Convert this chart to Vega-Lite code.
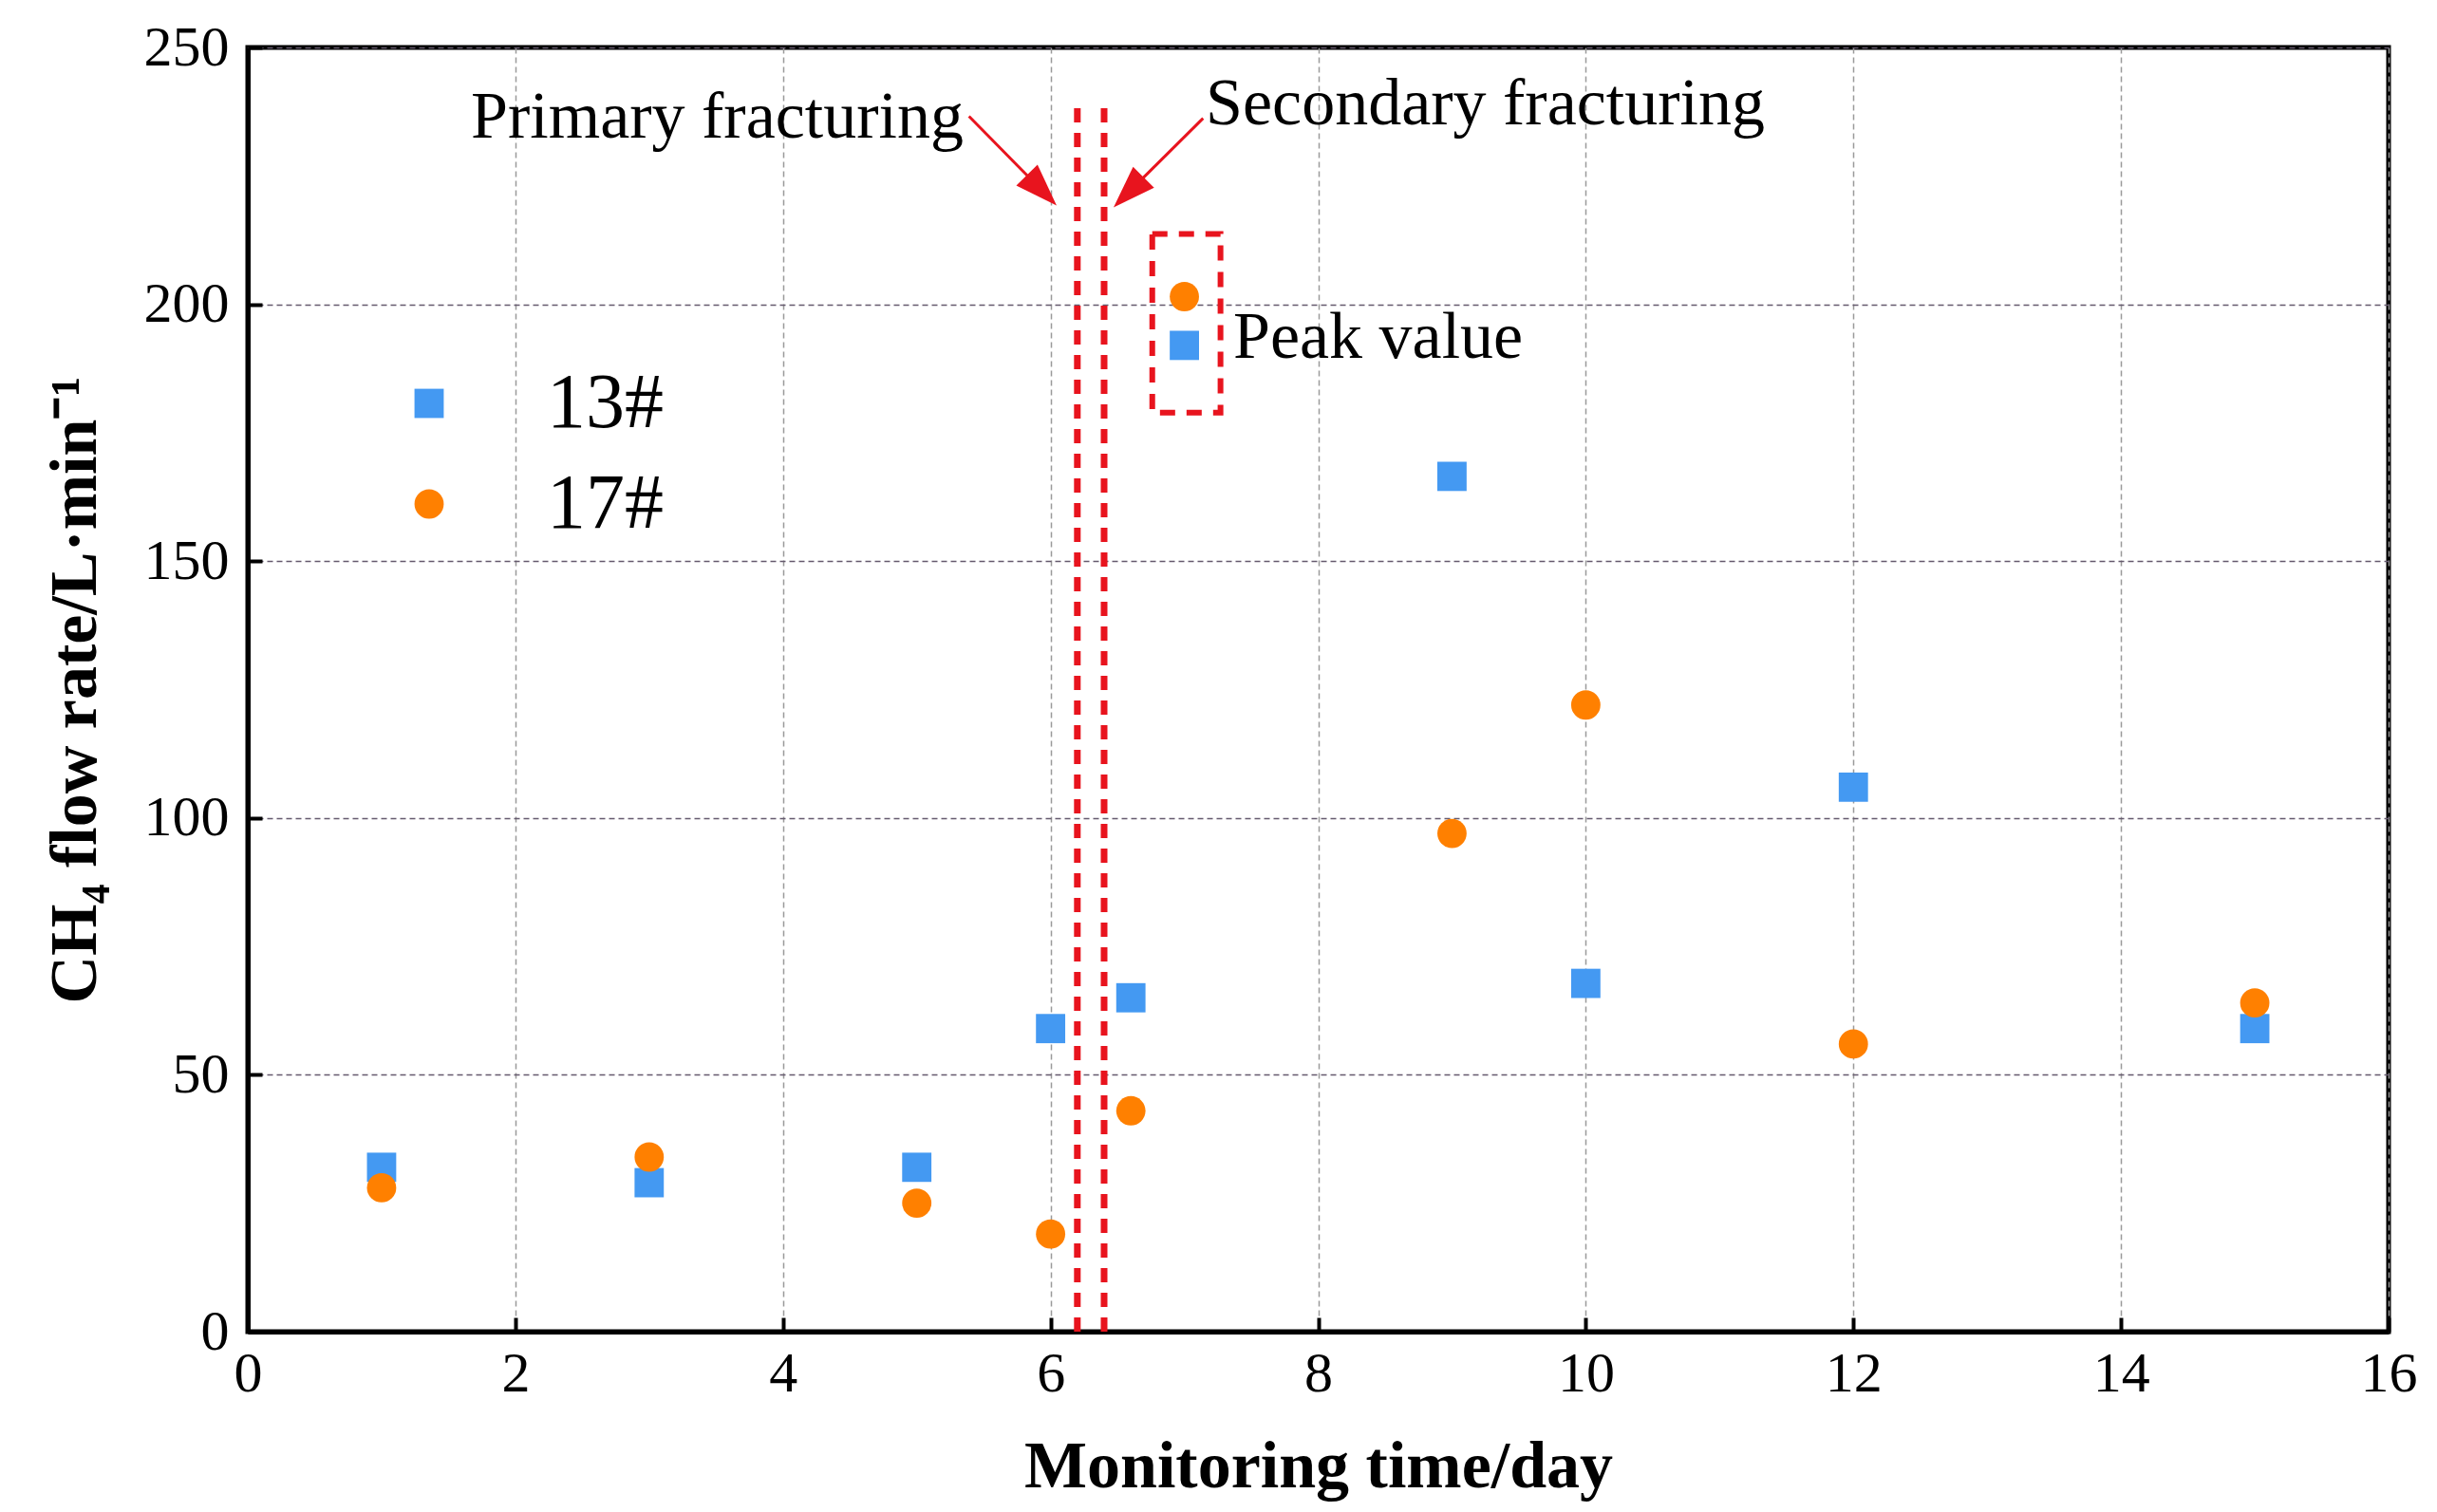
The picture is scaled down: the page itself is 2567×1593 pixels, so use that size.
{
  "$schema": "https://vega.github.io/schema/vega-lite/v6.json",
  "description": "CH4 flow rate of boreholes 13# and 17# over monitoring time",
  "background": "white",
  "autosize": {"type": "none"},
  "padding": {"left": 261, "top": 50, "right": 51, "bottom": 190},
  "width": 2255,
  "height": 1353,
  "config": {
    "font": "Liberation Serif",
    "view": {"stroke": "black", "strokeWidth": 5},
    "axis": {
      "labelFont": "Liberation Serif",
      "labelFontSize": 60,
      "labelColor": "black",
      "labelFlush": false,
      "labelOverlap": false,
      "format": "d",
      "titleFont": "Liberation Serif",
      "titleFontSize": 70,
      "titleFontWeight": "bold",
      "titleColor": "black",
      "domainColor": "black",
      "domainWidth": 5,
      "tickColor": "black",
      "tickWidth": 4,
      "tickSize": -15,
      "gridDash": [6, 4],
      "gridWidth": 1.5
    },
    "legend": {
      "padding": 0,
      "labelFont": "Liberation Serif",
      "labelFontSize": 82,
      "labelColor": "black",
      "symbolSize": 950,
      "symbolStrokeWidth": 0,
      "labelOffset": 83,
      "rowPadding": 24
    }
  },
  "layer": [
    {
      "data": {"values": [
        {"day": 1, "rate": 32, "well": "13#"},
        {"day": 3, "rate": 29, "well": "13#"},
        {"day": 5, "rate": 32, "well": "13#"},
        {"day": 6, "rate": 59, "well": "13#"},
        {"day": 6.6, "rate": 65, "well": "13#"},
        {"day": 7, "rate": 192, "well": "13#"},
        {"day": 9, "rate": 166.5, "well": "13#"},
        {"day": 10, "rate": 67.8, "well": "13#"},
        {"day": 12, "rate": 106, "well": "13#"},
        {"day": 15, "rate": 59, "well": "13#"},
        {"day": 1, "rate": 28, "well": "17#"},
        {"day": 3, "rate": 34, "well": "17#"},
        {"day": 5, "rate": 25, "well": "17#"},
        {"day": 6, "rate": 19, "well": "17#"},
        {"day": 6.6, "rate": 43, "well": "17#"},
        {"day": 7, "rate": 201.5, "well": "17#"},
        {"day": 9, "rate": 97, "well": "17#"},
        {"day": 10, "rate": 122, "well": "17#"},
        {"day": 12, "rate": 56, "well": "17#"},
        {"day": 15, "rate": 64, "well": "17#"}
      ]},
      "mark": {"type": "point", "filled": true, "size": 950, "opacity": 1},
      "encoding": {
        "x": {
          "field": "day", "type": "quantitative",
          "title": "Monitoring time/day",
          "scale": {"domain": [0, 16], "nice": false, "zero": true},
          "axis": {
            "values": [0, 2, 4, 6, 8, 10, 12, 14, 16],
            "labelPadding": 30,
            "gridColor": "#9a9a9a",
            "titleBaseline": "alphabetic",
            "titleY": 163
          }
        },
        "y": {
          "field": "rate", "type": "quantitative",
          "title": "CH₄ flow rate/L·min⁻¹",
          "scale": {"domain": [0, 250], "nice": false},
          "axis": {
            "values": [0, 50, 100, 150, 200, 250],
            "labelPadding": 35,
            "gridColor": "#655a6e",
            "titleBaseline": "alphabetic",
            "titleX": -161
          }
        },
        "color": {
          "field": "well", "type": "nominal",
          "scale": {"domain": ["13#", "17#"], "range": ["#4499f2", "#ff8000"]},
          "legend": {"title": null, "orient": "none", "legendX": 150, "legendY": 334}
        },
        "shape": {
          "field": "well", "type": "nominal",
          "scale": {"domain": ["13#", "17#"], "range": ["square", "circle"]},
          "legend": {"title": null, "orient": "none", "legendX": 150, "legendY": 334}
        }
      }
    },
    {
      "data": {"values": [
        {"day": 6.2, "low": 0, "high": 240},
        {"day": 6.4, "low": 0, "high": 240}
      ]},
      "mark": {"type": "rule", "color": "#e8141e", "strokeWidth": 7, "strokeDash": [15, 11]},
      "encoding": {
        "x": {"field": "day", "type": "quantitative"},
        "y": {"field": "low", "type": "quantitative"},
        "y2": {"field": "high"}
      }
    },
    {
      "data": {"values": [
        {"x0": 6.76, "x1": 7.27, "y0": 178.9, "y1": 213.7}
      ]},
      "mark": {"type": "rect", "fill": null, "fillOpacity": 0, "stroke": "#e8141e", "strokeWidth": 6, "strokeDash": [16, 12]},
      "encoding": {
        "x": {"field": "x0", "type": "quantitative"},
        "x2": {"field": "x1"},
        "y": {"field": "y0", "type": "quantitative"},
        "y2": {"field": "y1"}
      }
    },
    {
      "data": {"values": [
        {"x0": 5.39, "y0": 236.6, "x1": 5.934, "y1": 222.2},
        {"x0": 7.14, "y0": 236.2, "x1": 6.583, "y1": 221.8}
      ]},
      "mark": {"type": "rule", "color": "#e8141e", "strokeWidth": 3},
      "encoding": {
        "x": {"field": "x0", "type": "quantitative"},
        "y": {"field": "y0", "type": "quantitative"},
        "x2": {"field": "x1"},
        "y2": {"field": "y1"}
      }
    },
    {
      "data": {"values": [{"x": 5.934, "y": 222.2}]},
      "mark": {"type": "point", "filled": true, "color": "#e8141e", "opacity": 1, "size": 2000, "shape": "M0,-1L0.7,1L-0.7,1Z", "angle": 135.6},
      "encoding": {
        "x": {"field": "x", "type": "quantitative"},
        "y": {"field": "y", "type": "quantitative"}
      }
    },
    {
      "data": {"values": [{"x": 6.583, "y": 221.8}]},
      "mark": {"type": "point", "filled": true, "color": "#e8141e", "opacity": 1, "size": 2000, "shape": "M0,-1L0.7,1L-0.7,1Z", "angle": 225},
      "encoding": {
        "x": {"field": "x", "type": "quantitative"},
        "y": {"field": "y", "type": "quantitative"}
      }
    },
    {
      "data": {"values": [{"label": "Primary fracturing", "x": 5.35, "y": 232.5}]},
      "mark": {"type": "text", "align": "right", "baseline": "alphabetic", "fontSize": 70, "font": "Liberation Serif", "color": "black"},
      "encoding": {
        "x": {"field": "x", "type": "quantitative"},
        "y": {"field": "y", "type": "quantitative"},
        "text": {"field": "label"}
      }
    },
    {
      "data": {"values": [
        {"label": "Secondary fracturing", "x": 7.16, "y": 235},
        {"label": "Peak value", "x": 7.365, "y": 189.5}
      ]},
      "mark": {"type": "text", "align": "left", "baseline": "alphabetic", "fontSize": 70, "font": "Liberation Serif", "color": "black"},
      "encoding": {
        "x": {"field": "x", "type": "quantitative"},
        "y": {"field": "y", "type": "quantitative"},
        "text": {"field": "label"}
      }
    }
  ]
}
